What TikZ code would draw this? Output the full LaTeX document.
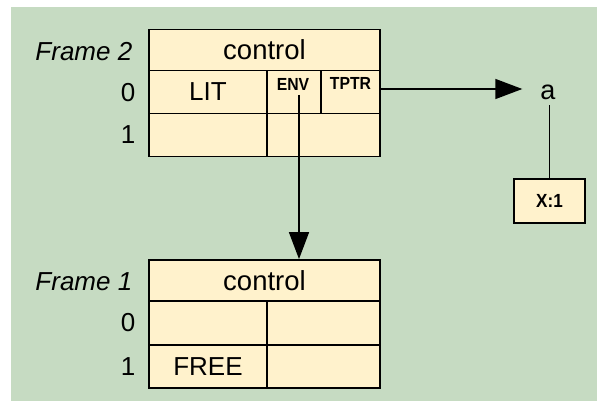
\documentclass[tikz,border=0pt]{standalone}
\usepackage{fontspec}
\setmainfont{Liberation Sans}
\newfontfamily\narrowsans{Liberation Sans}[FakeStretch=0.9]
\usetikzlibrary{arrows.meta}
\definecolor{panelgreen}{RGB}{198,219,194}
\definecolor{cellfill}{RGB}{255,242,204}

\begin{document}
\begin{tikzpicture}[x=1pt,y=-1pt,
  cell/.style 2 args={draw=black, fill=cellfill, line width=1.8pt, inner sep=0pt,
    minimum width=#1, minimum height=#2, font=\fontsize{26}{30}\selectfont},
  lab/.style={anchor=east, inner sep=0pt, font=\fontsize{26}{30}\selectfont},
  tag/.style={inner sep=0pt, font=\narrowsans\bfseries\fontsize{17.5}{20}\selectfont},
  ptr/.style={line width=1.5pt, -{Triangle[length=27pt,width=20pt]}},
  wire/.style={line width=1.5pt}]

\useasboundingbox (0,0) rectangle (597,401);
\fill[panelgreen] (11,7) rectangle (597,401);

% Frame 2
\node[cell={231pt}{41pt}, font=\fontsize{27.5}{30}\selectfont] (f2ctl) at (264.5,50) {control};
\node[cell={118pt}{43pt}] (f2lit) at (208,92) {LIT};
\node[cell={54pt}{43pt}] (f2env) at (294,92) {};
\node[cell={59pt}{43pt}] (f2tptr) at (350.5,92) {};
\node[cell={118pt}{43pt}] (f2r1a) at (208,135) {};
\node[cell={113pt}{43pt}] (f2r1b) at (323.5,135) {};
\node[tag] (envtxt) at (293,84) {ENV};
\node[tag] (tptrtxt) at (350.5,83.5) {TPTR};

\node[lab] (f2name) at (132.5,51.5) {\itshape Frame 2};
\node[lab] (f2zero) at (135.5,93) {0};
\node[lab] (f2one) at (135.5,135) {1};

% Frame 1
\node[cell={231pt}{41pt}, font=\fontsize{27.5}{30}\selectfont] (f1ctl) at (264.5,280.5) {control};
\node[cell={118pt}{44pt}] (f1r0a) at (208,323) {};
\node[cell={113pt}{44pt}] (f1r0b) at (323.5,323) {};
\node[cell={118pt}{43pt}] (f1r1a) at (208,366.5) {FREE};
\node[cell={113pt}{43pt}] (f1r1b) at (323.5,366.5) {};

\node[lab] (f1name) at (132.5,281.5) {\itshape Frame 1};
\node[lab] (f1zero) at (135.5,323) {0};
\node[lab] (f1one) at (135.5,366.5) {1};

% Symbol a and its value cell
\node[anchor=south, inner xsep=18pt, inner ysep=5pt,
      font=\fontsize{27}{30}\selectfont] (anode) at (548,105) {a};
\node[cell={71pt}{44pt}, font=\narrowsans\bfseries\fontsize{19}{22}\selectfont]
      (xval) at (549.5,201.3) {X:1};

% Pointers
\coordinate (envptr) at (299,95);
\coordinate (tptrptr) at (379,89);
\draw[ptr] (envptr) -- (envptr |- f1ctl.north);
\draw[ptr] (tptrptr) -- (tptrptr -| anode.west);
\draw[wire] (xval.north) -- (xval.north |- anode.south);
\end{tikzpicture}
\end{document}
